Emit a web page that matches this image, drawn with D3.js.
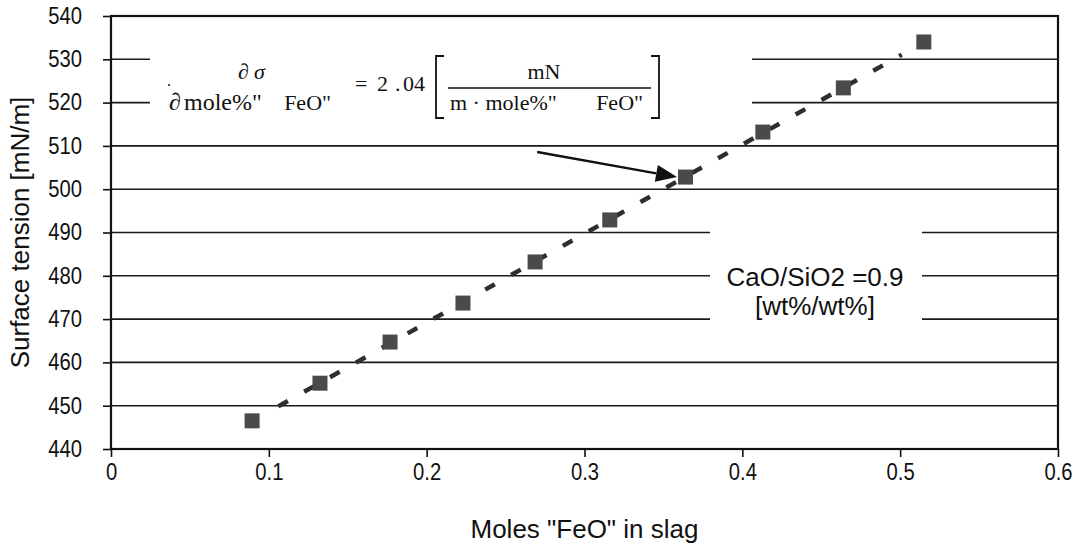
<!DOCTYPE html>
<html>
<head>
<meta charset="utf-8">
<script src="https://cdn.jsdelivr.net/npm/d3@7"></script>
<style>
  html, body { margin: 0; padding: 0; background: #fff; }
  svg { display: block; }
  text { fill: #111; }
</style>
</head>
<body>
<svg id="chart" width="1084" height="550"></svg>
<script>
// Measured surface tension versus FeO mole fraction in the slag
const molesFeO = [0.0894, 0.1324, 0.1768, 0.223, 0.2687, 0.316, 0.364, 0.413, 0.464, 0.515];
const surfaceTension = [446.5, 455.2, 464.7, 473.7, 483.2, 492.9, 502.8, 513.2, 523.4, 534.0];

// Axis ticks
const xTicks = [0, 0.1, 0.2, 0.3, 0.4, 0.5, 0.6];
const yTicks = [440, 450, 460, 470, 480, 490, 500, 510, 520, 530, 540];

// Extent of the fitted trend line along x
const trendRange = [0.106, 0.501];

const svg = d3.select("#chart");
const margin = { left: 111, right: 1084 - 1058, top: 16, bottom: 550 - 449 };
const W = 1084, H = 550;
const innerW = W - margin.left - margin.right;
const innerH = H - margin.top - margin.bottom;

const x = d3.scaleLinear().domain([0, 0.6]).range([margin.left, margin.left + innerW]);
const y = d3.scaleLinear().domain([440, 540]).range([margin.top + innerH, margin.top]);

const sans = "'Liberation Sans', Arial, sans-serif";
const serif = "'Liberation Serif', 'Times New Roman', serif";
const narrow = 0.88; // tick labels are set slightly condensed

// Horizontal grid lines
svg.append("g")
  .selectAll("line")
  .data(yTicks.filter(v => v > 440 && v < 540))
  .join("line")
  .attr("x1", x(0)).attr("x2", x(0.6))
  .attr("y1", d => y(d)).attr("y2", d => y(d))
  .attr("stroke", "#1a1a1a").attr("stroke-width", 1.6);

// White panels behind the two text annotations
svg.append("rect").attr("x", 150).attr("y", 30).attr("width", 602).attr("height", 95).attr("fill", "#fff");
svg.append("rect").attr("x", 710).attr("y", 222).attr("width", 212).attr("height", 108).attr("fill", "#fff");

// Least-squares trend line through the measurements
const n = molesFeO.length;
const mx = d3.mean(molesFeO), my = d3.mean(surfaceTension);
let sxy = 0, sxx = 0;
for (let i = 0; i < n; i++) {
  sxy += (molesFeO[i] - mx) * (surfaceTension[i] - my);
  sxx += (molesFeO[i] - mx) ** 2;
}
const slope = sxy / sxx;
const intercept = my - slope * mx;
const trendPts = trendRange.map(v => [v, intercept + slope * v]);

svg.append("path")
  .datum(trendPts)
  .attr("d", d3.line().x(d => x(d[0])).y(d => y(d[1])))
  .attr("fill", "none")
  .attr("stroke", "#2e2e2e")
  .attr("stroke-width", 4.5)
  .attr("stroke-dasharray", "11,18.7");

// Square markers
const ms = 15;
svg.append("g")
  .selectAll("rect")
  .data(molesFeO.map((v, i) => [v, surfaceTension[i]]))
  .join("rect")
  .attr("x", d => x(d[0]) - ms / 2)
  .attr("y", d => y(d[1]) - ms / 2)
  .attr("width", ms).attr("height", ms)
  .attr("fill", "#4a4a4a");

// Axes
const yAxis = d3.axisLeft(y).tickValues(yTicks).tickSize(8).tickPadding(21).tickFormat(d3.format("d"));
const gy = svg.append("g").attr("transform", `translate(${margin.left},0)`).call(yAxis);
gy.select(".domain").remove();
gy.selectAll(".tick line").attr("stroke", "#111").attr("stroke-width", 1.6);
gy.selectAll(".tick text")
  .attr("font-family", sans).attr("font-size", 23).attr("fill", "#111")
  .attr("x", 0).attr("transform", `translate(-29,0) scale(${narrow},1)`);

const xAxis = d3.axisBottom(x).tickValues(xTicks).tickSize(8).tickPadding(7).tickFormat(d => d === 0 ? "0" : d3.format(".1f")(d));
const gx = svg.append("g").attr("transform", `translate(0,${margin.top + innerH})`).call(xAxis);
gx.select(".domain").remove();
gx.selectAll(".tick line").attr("stroke", "#111").attr("stroke-width", 1.6);
gx.selectAll(".tick text")
  .attr("font-family", sans).attr("font-size", 23).attr("fill", "#111")
  .attr("transform", `scale(${narrow},1)`);

// Plot frame
svg.append("rect")
  .attr("x", x(0)).attr("y", y(540))
  .attr("width", x(0.6) - x(0)).attr("height", y(440) - y(540))
  .attr("fill", "none").attr("stroke", "#111").attr("stroke-width", 2.2);

// Axis titles
svg.append("text")
  .attr("transform", `translate(20,${(y(440) + y(540)) / 2}) rotate(-90)`)
  .attr("text-anchor", "middle").attr("dominant-baseline", "central")
  .attr("font-family", sans).attr("font-size", 26)
  .text("Surface tension [mN/m]");

svg.append("text")
  .attr("x", (x(0) + x(0.6)) / 2).attr("y", 538)
  .attr("text-anchor", "middle")
  .attr("font-family", sans).attr("font-size", 26)
  .text("Moles \"FeO\" in slag");

// Basicity annotation
svg.append("text")
  .attr("x", 815).attr("y", 286).attr("text-anchor", "middle")
  .attr("font-family", sans).attr("font-size", 26)
  .text("CaO/SiO2 =0.9");
svg.append("text")
  .attr("x", 815).attr("y", 315).attr("text-anchor", "middle")
  .attr("font-family", sans).attr("font-size", 26)
  .text("[wt%/wt%]");

// Slope formula
const f = svg.append("g").attr("font-family", serif).attr("font-size", 22);
f.append("circle").attr("cx", 169).attr("cy", 85).attr("r", 1).attr("fill", "#111");
f.append("text").attr("x", 238).attr("y", 79).text("∂");
f.append("text").attr("x", 254).attr("y", 79).attr("font-style", "italic").text("σ");
f.append("text").attr("x", 169).attr("y", 110).attr("font-size", 24).text("∂");
f.append("text").attr("x", 184).attr("y", 110).attr("font-size", 24).text("mole%\"");
f.append("text").attr("x", 331).attr("y", 110).attr("text-anchor", "end").text("FeO\"");
f.append("text").attr("x", 355).attr("y", 91).text("=");
f.append("text").attr("x", 377).attr("y", 91).text("2");
f.append("text").attr("x", 395).attr("y", 91).text(".");
f.append("text").attr("x", 403).attr("y", 91).text("04");
f.append("text").attr("x", 544).attr("y", 79).attr("text-anchor", "middle").text("mN");
f.append("line").attr("x1", 448).attr("x2", 651).attr("y1", 88).attr("y2", 88)
  .attr("stroke", "#111").attr("stroke-width", 1.5);
f.append("text").attr("x", 450).attr("y", 110).text("m · mole%\"");
f.append("text").attr("x", 643).attr("y", 110).attr("text-anchor", "end").text("FeO\"");
f.append("path").attr("d", "M444,56H436V118H444").attr("fill", "none").attr("stroke", "#111").attr("stroke-width", 1.8);
f.append("path").attr("d", "M651,56H659V118H651").attr("fill", "none").attr("stroke", "#111").attr("stroke-width", 1.8);

// Arrow pointing at the 0.364 measurement
const tip = [x(molesFeO[6]) - ms / 2 - 1, y(surfaceTension[6])];
const tail = [x(0.27), y(508.6)];
const ang = Math.atan2(tip[1] - tail[1], tip[0] - tail[0]);
const headLen = 21, headHalf = 8.5;
const base = [tip[0] - headLen * Math.cos(ang), tip[1] - headLen * Math.sin(ang)];
svg.append("line")
  .attr("x1", tail[0]).attr("y1", tail[1]).attr("x2", base[0]).attr("y2", base[1])
  .attr("stroke", "#111").attr("stroke-width", 2.4);
svg.append("polygon")
  .attr("points", [
    tip,
    [base[0] + headHalf * Math.sin(ang), base[1] - headHalf * Math.cos(ang)],
    [base[0] - headHalf * Math.sin(ang), base[1] + headHalf * Math.cos(ang)]
  ].map(p => p.join(",")).join(" "))
  .attr("fill", "#111");
</script>
</body>
</html>
